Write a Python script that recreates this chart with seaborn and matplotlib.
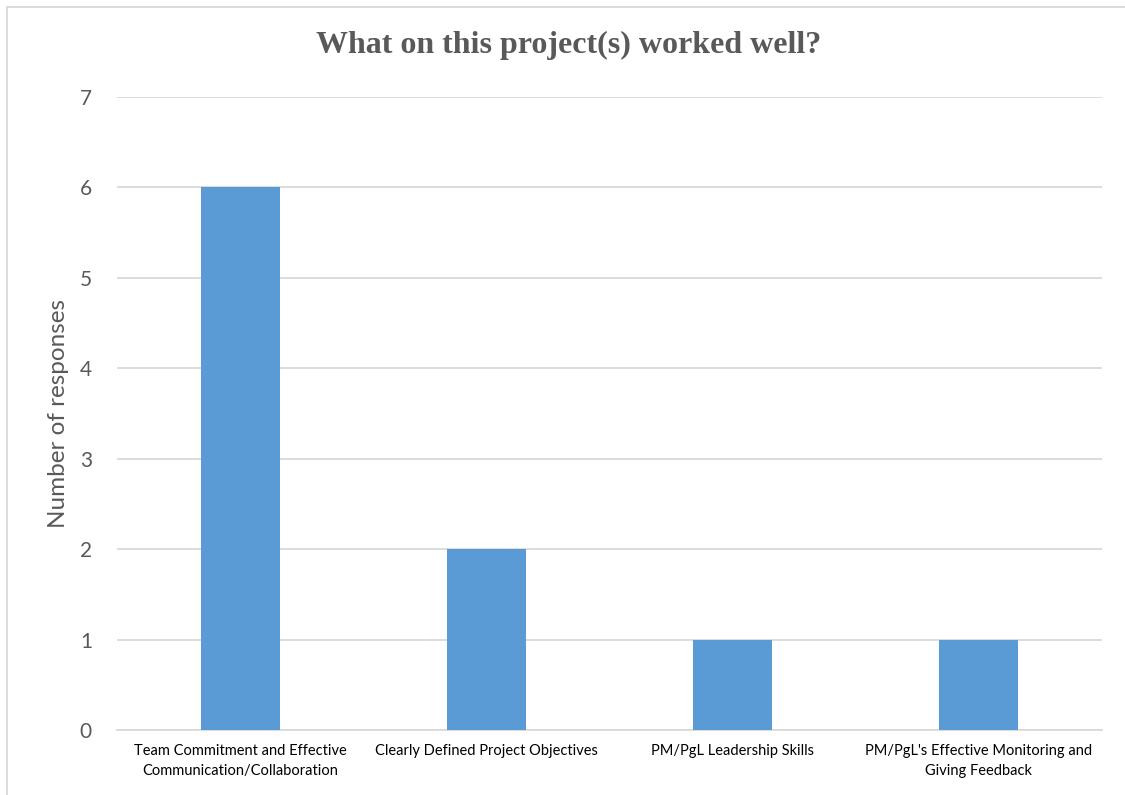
import matplotlib
matplotlib.use("Agg")
import matplotlib.pyplot as plt
import seaborn as sns
import pandas as pd
from matplotlib.patches import Rectangle

categories = ["Team Commitment and Effective\nCommunication/Collaboration",
              "Clearly Defined Project Objectives",
              "PM/PgL Leadership Skills",
              "PM/PgL's Effective Monitoring and\nGiving Feedback"]
responses = [6, 2, 1, 1]
yticks = [0, 1, 2, 3, 4, 5, 6, 7]

sns.set_theme(style="white")
plt.rcParams['font.family'] = ['Lato', 'DejaVu Sans']

df = pd.DataFrame({"category": categories, "responses": responses})

fig = plt.figure(figsize=(11.25, 7.95), dpi=100)
ax = fig.add_axes([117/1125, 1 - 730/795, (1102-117)/1125, (730-97)/795])

sns.barplot(data=df, x="category", y="responses", color="#5B9BD5", width=0.32,
            saturation=1, linewidth=0, ax=ax, zorder=3)

ax.set_ylim(0, 7)
ax.set_yticks(yticks)
ax.set_xlim(-0.5, 3.5)
ax.grid(axis="y", color="#D9D9D9", linewidth=1.3, zorder=0)
for s in ["top", "right", "left"]:
    ax.spines[s].set_visible(False)
ax.spines["bottom"].set_color("#D9D9D9")
ax.spines["bottom"].set_linewidth(1.3)
ax.tick_params(axis="y", length=0, pad=18, labelsize=15, labelcolor="#595959")
ax.tick_params(axis="x", length=0, pad=10, labelsize=10.5, labelcolor="#000000")
for lbl in ax.get_xticklabels():
    lbl.set_linespacing(1.6)
ax.set_xlabel("")
ax.set_ylabel("Number of responses", fontsize=17.5, color="#595959", labelpad=8)

fig.text(569 / 1125, 1 - 45/795, "What on this project(s) worked well?",
         ha="center", va="center", fontsize=23, fontweight="bold",
         color="#595959", family=["Liberation Serif", "DejaVu Serif"])

fig.patches.append(Rectangle((7/1125, -0.02), 1.05, 1 - 7/795 + 0.02,
                             transform=fig.transFigure, fill=False,
                             edgecolor="#D9D9D9", linewidth=1.3))

fig.savefig("out.png", dpi=100, facecolor="white")
